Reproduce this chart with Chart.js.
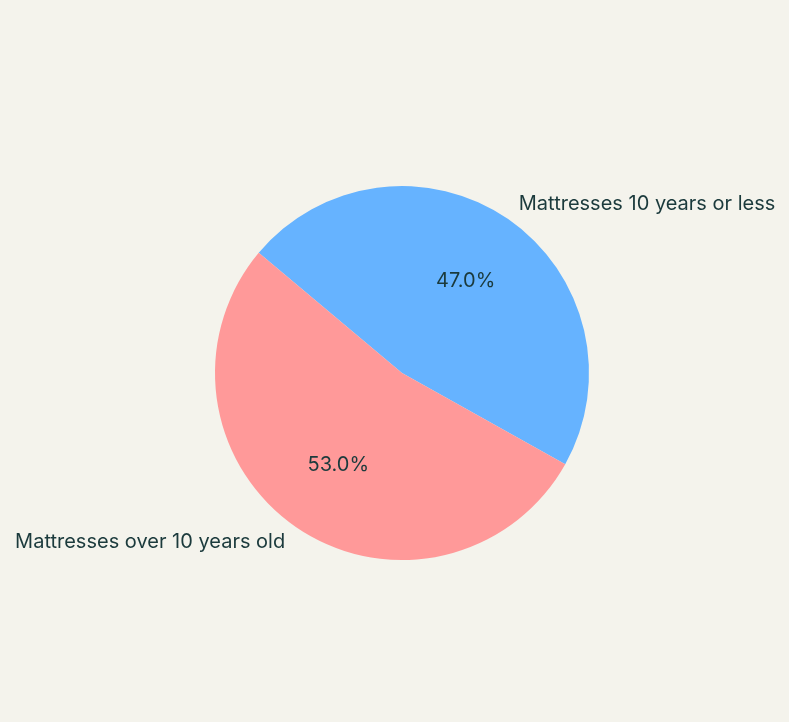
<!DOCTYPE html>
<html>
<head>
<meta charset="utf-8">
<script src="https://cdn.jsdelivr.net/npm/chart.js@4"></script>
<style>
  html, body { margin: 0; padding: 0; background: #f4f3ec; }
  canvas { display: block; }
</style>
</head>
<body>
<canvas id="pieChart" width="789" height="722"></canvas>
<script>
// slices in clockwise order, starting at the upper-left edge
const categories = ["Mattresses 10 years or less", "Mattresses over 10 years old"];
const shares = [47.0, 53.0];
const sliceColors = ["#66b3ff", "#ff9999"];

const textColor = "#1b3a3c";
const fontFamily = "Inter, 'Noto Sans', sans-serif";

// draw the outside labels and percentages from the arcs themselves
const sliceLabels = {
  id: "sliceLabels",
  afterDatasetsDraw(chart) {
    const ctx = chart.ctx;
    const meta = chart.getDatasetMeta(0);
    const total = shares.reduce((a, b) => a + b, 0);
    ctx.save();
    ctx.fillStyle = textColor;
    ctx.textBaseline = "middle";
    meta.data.forEach((arc, i) => {
      const mid = (arc.startAngle + arc.endAngle) / 2;
      const r = arc.outerRadius;
      const cos = Math.cos(mid);
      const sin = Math.sin(mid);

      ctx.font = "20px " + fontFamily;
      ctx.textAlign = cos >= 0 ? "left" : "right";
      ctx.fillText(categories[i], arc.x + cos * r * 1.1, arc.y + sin * r * 1.1);

      ctx.font = "20px " + fontFamily;
      ctx.textAlign = "center";
      const pct = (shares[i] / total * 100).toFixed(1) + "%";
      ctx.fillText(pct, arc.x + cos * r * 0.6, arc.y + sin * r * 0.6);
    });
    ctx.restore();
  },
};

const ctx = document.getElementById("pieChart").getContext("2d");
new Chart(ctx, {
  type: "pie",
  data: {
    labels: categories,
    datasets: [{
      data: shares,
      backgroundColor: sliceColors,
      borderWidth: 0,
    }],
  },
  options: {
    responsive: false,
    animation: false,
    rotation: -50,
    layout: { padding: { left: 215, right: 200, top: 186, bottom: 162 } },
    plugins: {
      legend: { display: false },
      tooltip: { enabled: false },
    },
  },
  plugins: [sliceLabels],
});
</script>
</body>
</html>
